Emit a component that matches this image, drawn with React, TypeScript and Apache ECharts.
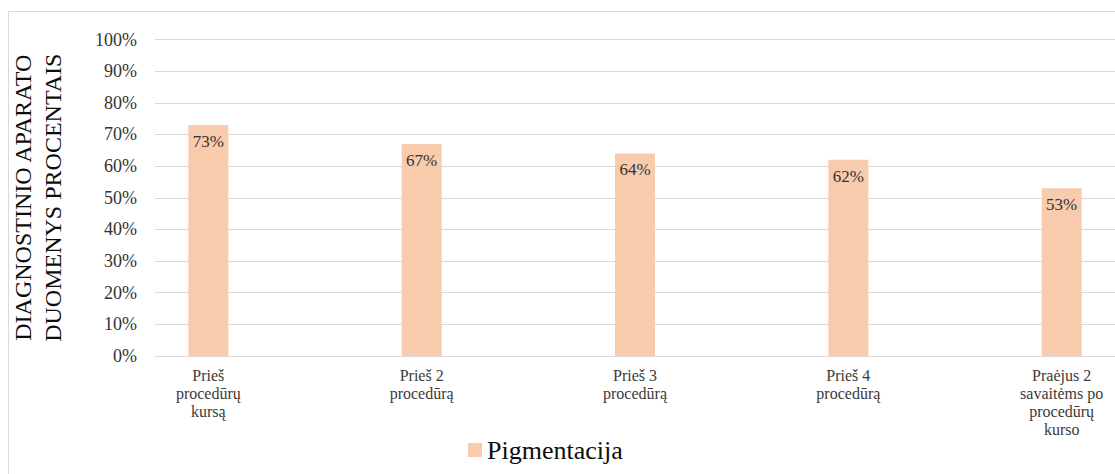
import React, { useEffect, useRef } from "react";
import * as echarts from "echarts";

const categories = [
  "Prieš\nprocedūrų\nkursą",
  "Prieš 2\nprocedūrą",
  "Prieš 3\nprocedūrą",
  "Prieš 4\nprocedūrą",
  "Praėjus 2\nsavaitėms po\nprocedūrų\nkurso",
];
const seriesName = "Pigmentacija";
const values = [0.73, 0.67, 0.64, 0.62, 0.53];
const yTicks = [0, 0.1, 0.2, 0.3, 0.4, 0.5, 0.6, 0.7, 0.8, 0.9, 1.0];
const axisTitle = "DIAGNOSTINIO APARATO\nDUOMENYS PROCENTAIS";

const FONT = "Liberation Serif";

export default function App() {
  const ref = useRef<HTMLDivElement>(null);
  useEffect(() => {
    if (!ref.current) return;
    const chart = echarts.init(ref.current, undefined, { renderer: "svg" });
    const pct = (v: number) => `${Math.round(v * 100)}%`;
    chart.setOption({
      animation: false,
      textStyle: { fontFamily: FONT },
      graphic: [
        {
          type: "rect",
          shape: { x: 8.5, y: 11.5, width: 1200, height: 600 },
          style: { fill: "none", stroke: "#d9d9d9", lineWidth: 1 },
          silent: true,
        },
      ],
      grid: {
        left: 155,
        right: 0,
        top: 39.5,
        bottom: 118,
        containLabel: false,
        outerBoundsMode: "none",
      },
      legend: {
        data: [seriesName],
        left: 468,
        top: 437,
        padding: 0,
        icon: "rect",
        itemWidth: 14,
        itemHeight: 14,
        itemGap: 6,
        textStyle: { fontFamily: FONT, fontSize: 26, color: "#0d0d0d" },
      },
      xAxis: {
        type: "value",
        min: -0.25,
        max: 4.25,
        interval: 0.25,
        axisLine: { show: true, lineStyle: { color: "#d9d9d9", width: 1 } },
        axisTick: { show: false },
        splitLine: { show: false },
        axisLabel: {
          fontFamily: FONT,
          fontSize: 16,
          lineHeight: 18,
          color: "#3a3a3a",
          margin: 10,
          hideOverlap: false,
          showMinLabel: true,
          showMaxLabel: true,
          formatter: (v: number) => {
            const r = Math.round(v);
            if (Math.abs(v - r) < 1e-6 && r >= 0 && r < categories.length) return categories[r];
            return "";
          },
        },
      },
      yAxis: {
        type: "value",
        min: yTicks[0],
        max: yTicks[yTicks.length - 1],
        interval: 0.1,
        name: axisTitle,
        nameLocation: "middle",
        nameRotate: 90,
        nameGap: 87,
        nameTextStyle: { fontFamily: FONT, fontSize: 24, lineHeight: 30, color: "#0d0d0d" },
        axisLine: { show: false },
        axisTick: { show: false },
        splitLine: { show: true, lineStyle: { color: "#d9d9d9", width: 1 } },
        axisLabel: {
          fontFamily: FONT,
          fontSize: 18,
          color: "#333333",
          margin: 18,
          formatter: (v: number) => pct(v),
        },
      },
      series: [
        {
          name: seriesName,
          type: "bar",
          barWidth: 40,
          itemStyle: { color: "#F8CBAD" },
          label: {
            show: true,
            position: "insideTop",
            distance: 8,
            color: "#333333",
            fontSize: 17,
            fontFamily: FONT,
            formatter: (p: any) => pct(p.value[1]),
          },
          data: values.map((v, i) => [i, v]),
        },
      ],
    });
    return () => chart.dispose();
  }, []);
  return (
    <div
      ref={ref}
      style={{ position: "absolute", left: 0, top: 0, width: 1115, height: 474, background: "#fff" }}
    />
  );
}
